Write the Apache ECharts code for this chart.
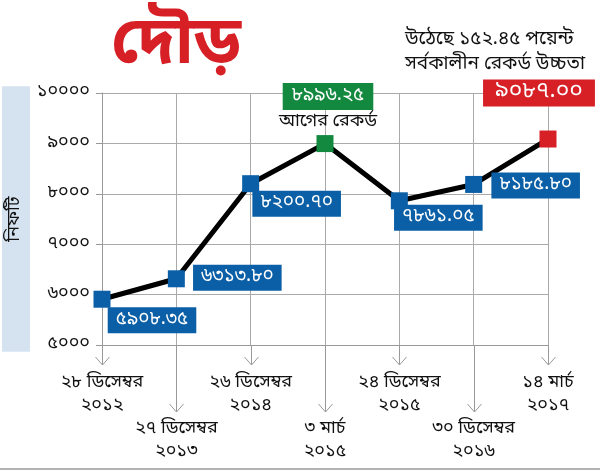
<!DOCTYPE html>
<html>
<head>
<meta charset="utf-8">
<script src="https://cdn.jsdelivr.net/npm/echarts@6/dist/echarts.min.js"></script>
<style>html,body{margin:0;padding:0;background:#fff}#c{width:600px;height:471px}</style>
</head>
<body>
<div id="c"></div>
<script>
// ---- data ----
const dates = ['২৮ ডিসেম্বর', '২৭ ডিসেম্বর', '২৬ ডিসেম্বর', '৩ মার্চ', '২৪ ডিসেম্বর', '৩০ ডিসেম্বর', '১৪ মার্চ'];
const years = ['২০১২', '২০১৩', '২০১৪', '২০১৫', '২০১৫', '২০১৬', '২০১৭'];
const values = [5908.35, 6313.80, 8200.70, 8996.25, 7861.05, 8185.80, 9087.00];
const valueLabels = ['৫৯০৮.৩৫', '৬৩১৩.৮০', '৮২০০.৭০', '৮৯৯৬.২৫', '৭৮৬১.০৫', '৮১৮৫.৮০', '৯০৮৭.০০'];
const yTicks = [5000, 6000, 7000, 8000, 9000, 10000];
const titleText = 'দৌড়';
const noteLines = ['উঠেছে ১৫২.৪৫ পয়েন্ট', 'সর্বকালীন রেকর্ড উচ্চতা'];
const prevRecordText = 'আগের রেকর্ড';
const yName = 'নিফটি';

// ---- styling / layout (not data) ----
const FONT = '"Noto Sans Bengali","Noto Sans","Lohit Bengali","FreeSans",sans-serif';
const BLUE = '#0b5fa6', GREEN = '#13893f', RED = '#d71f26';
const kinds = ['blue', 'blue', 'blue', 'green', 'blue', 'blue', 'red'];
const labelOffsets = [[50, 21], [61, -1], [46, 20], [3, -31], [39, 17], [62, 1], [-9, -46]];
const arrowLen = [20, 67, 20, 67, 20, 67, 20];

const bn = s => String(s).replace(/[0-9]/g, d => '০১২৩৪৫৬৭৮৯'[+d]);
const categories = dates.map((d, i) => d + '\n' + years[i]);
const colorOf = k => k === 'green' ? GREEN : (k === 'red' ? RED : BLUE);

const pointData = values.map((v, i) => {
  const k = kinds[i];
  const c = colorOf(k);
  let label;
  if (k === 'green') {
    label = {
      show: true, position: 'inside', offset: labelOffsets[i],
      formatter: '{box|' + valueLabels[i] + '}\n{t|' + prevRecordText + '}',
      rich: {
        box: { backgroundColor: GREEN, color: '#fff', fontSize: 19, padding: [4, 9, 4, 9], lineHeight: 19, fontFamily: FONT, align: 'center' },
        t: { color: '#111', fontSize: 18, lineHeight: 32, fontFamily: FONT, align: 'center' }
      }
    };
  } else {
    label = {
      show: true, position: 'inside', offset: labelOffsets[i],
      formatter: valueLabels[i],
      backgroundColor: c, color: '#fff',
      fontSize: k === 'red' ? 23 : 19,
      lineHeight: k === 'red' ? 22 : 19,
      padding: k === 'red' ? [3, 12, 2, 12] : [4, 8, 3, 8],
      fontFamily: FONT
    };
  }
  return { value: v, itemStyle: { color: c }, label };
});

const chart = echarts.init(document.getElementById('c'), null, { renderer: 'canvas' });
chart.setOption({
  animation: false,
  backgroundColor: '#fff',
  title: [
    { text: titleText, left: 106, top: 12, textStyle: { fontSize: 66, fontWeight: 'bold', color: RED, fontFamily: FONT } },
    { text: noteLines.join('\n'), right: 10, top: 23,
      textStyle: { fontSize: 19, fontWeight: 'normal', color: '#111', lineHeight: 25, fontFamily: FONT, align: 'right' } }
  ],
  grid: { left: 102, right: 52, top: 93, bottom: 126, containLabel: false, outerBoundsMode: 'none' },
  xAxis: {
    type: 'category', data: categories, boundaryGap: false,
    axisLine: { show: true, lineStyle: { color: '#999', width: 1 } },
    axisTick: { show: false },
    splitLine: { show: true, lineStyle: { color: '#aaa', width: 1 } },
    axisLabel: {
      interval: 0, margin: 27, fontSize: 18, lineHeight: 23, color: '#111', fontFamily: FONT,
      formatter: (v, i) => (i % 2 ? '\n\n' : '') + v
    }
  },
  yAxis: {
    type: 'value', min: 5000, max: 10000, interval: 1000,
    name: yName, nameLocation: 'middle', nameRotate: 90, nameGap: 72, nameMoveOverlap: false,
    nameTextStyle: { fontSize: 18, color: '#111', fontFamily: FONT, backgroundColor: '#d5e3f0', padding: [5, 110, 5, 110] },
    axisLine: { show: true, lineStyle: { color: '#999' } },
    axisTick: { show: true, length: 6, lineStyle: { color: '#999' } },
    splitLine: { show: true, lineStyle: { color: '#aaa', width: 1 } },
    axisLabel: { margin: 12, fontSize: 18, color: '#111', fontFamily: FONT, formatter: v => bn(v) }
  },
  graphic: [
    { type: 'line', shape: { x1: 0, y1: 469, x2: 600, y2: 469 }, style: { stroke: '#999', lineWidth: 1.5 } }
  ],
  series: [
    {
      type: 'custom', silent: true, clip: false, z: 1,
      data: values.map((v, i) => [i, yTicks[0]]),
      renderItem: (params, api) => {
        const i = api.value(0);
        const p = api.coord([i, api.value(1)]);
        const L = arrowLen[i];
        const x = Math.round(p[0]) + 0.5, y0 = p[1], y1 = p[1] + L;
        return {
          type: 'group', children: [
            { type: 'line', shape: { x1: x, y1: y0, x2: x, y2: y1 }, style: { stroke: '#999', lineWidth: 1 } },
            { type: 'polyline', shape: { points: [[x - 7, y1 - 8], [x, y1], [x + 7, y1 - 8]] }, style: { stroke: '#999', lineWidth: 1, fill: null } }
          ]
        };
      }
    },
    {
      type: 'line', data: pointData, z: 5,
      symbol: 'rect', symbolSize: 17,
      lineStyle: { color: '#000', width: 5 },
      itemStyle: { color: BLUE },
      label: { show: true }
    }
  ]
});
</script>
</body>
</html>
